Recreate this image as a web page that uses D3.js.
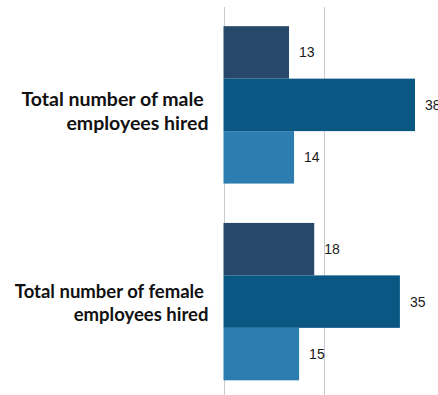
<!DOCTYPE html>
<html>
<head>
<meta charset="utf-8">
<script src="https://cdn.jsdelivr.net/npm/d3@7"></script>
<style>
  html, body { margin: 0; padding: 0; background: #fff; }
  svg { display: block; }
</style>
</head>
<body>
<svg id="chart" width="438" height="395"></svg>
<script>
// Categories (one row group each) and their wrapped label lines
const categories = ["male", "female"];
const categoryLines = [
  ["Total number of male ", "employees hired"],
  ["Total number of female ", "employees hired"]
];

// Three series of hires per category
const seriesNames = ["Series 1", "Series 2", "Series 3"];
const series1 = [13, 18];
const series2 = [38, 35];
const series3 = [14, 15];

// Gridline ticks
const tickValues = [0, 20];

const seriesValues = [series1, series2, series3];
const colors = ["#274868", "#0b5784", "#2d7db1"];

// Per-label typography for the category labels
const labelStyle = [
  { size: 19.5, lead: 24.3, dy: 0.8 },
  { size: 18.5, lead: 22.7, dy: -3.7 }
];

const rows = categories.map((c, i) => ({
  key: c,
  lines: categoryLines[i],
  values: seriesNames.map((s, j) => ({ series: s, value: seriesValues[j][i], idx: j }))
}));

const svg = d3.select("#chart");

const x = d3.scaleLinear().domain([0, 20]).range([223.5, 324.3]);

const y0 = d3.scaleBand()
  .domain(categories)
  .range([6.5, 400])
  .paddingInner(0.2)
  .paddingOuter(0.1);

const y1 = d3.scaleBand()
  .domain(seriesNames)
  .range([0, y0.bandwidth()])
  .padding(0);

// Vertical gridlines
svg.append("g")
  .selectAll("line")
  .data(tickValues)
  .join("line")
  .attr("x1", d => Math.round(x(d)) + 0.5)
  .attr("x2", d => Math.round(x(d)) + 0.5)
  .attr("y1", 7)
  .attr("y2", 395)
  .attr("stroke", "#c9c9d1")
  .attr("stroke-width", 1);

// Bars
const groups = svg.append("g")
  .selectAll("g")
  .data(rows)
  .join("g")
  .attr("transform", d => `translate(0,${y0(d.key)})`);

groups.selectAll("rect")
  .data(d => d.values)
  .join("rect")
  .attr("x", x(0))
  .attr("y", d => y1(d.series))
  .attr("width", d => x(d.value) - x(0))
  .attr("height", y1.bandwidth())
  .attr("fill", d => colors[d.idx]);

// Value labels at bar ends
groups.selectAll("text.value")
  .data(d => d.values)
  .join("text")
  .attr("class", "value")
  .attr("x", d => x(d.value) + 10)
  .attr("y", d => y1(d.series) + y1.bandwidth() / 2)
  .attr("dy", "0.36em")
  .attr("font-family", "'Liberation Sans', Arial, sans-serif")
  .attr("font-size", 14)
  .attr("fill", "#1a1a1a")
  .text(d => d.value);

// Category labels, right-aligned left of the axis
const labels = svg.append("g")
  .selectAll("text")
  .data(rows)
  .join("text")
  .attr("text-anchor", "end")
  .attr("font-family", "Lato, sans-serif")
  .attr("font-weight", 700)
  .attr("font-size", (d, i) => labelStyle[i].size)
  .attr("fill", "#111")
  .style("white-space", "pre");

labels.each(function (d, i) {
  const st = labelStyle[i];
  const c = y0(d.key) + y0.bandwidth() / 2 + st.dy;
  d3.select(this).selectAll("tspan")
    .data(d.lines)
    .join("tspan")
    .attr("x", 208.5)
    .attr("y", (line, k) => c + k * st.lead)
    .text(line => line);
});
</script>
</body>
</html>
